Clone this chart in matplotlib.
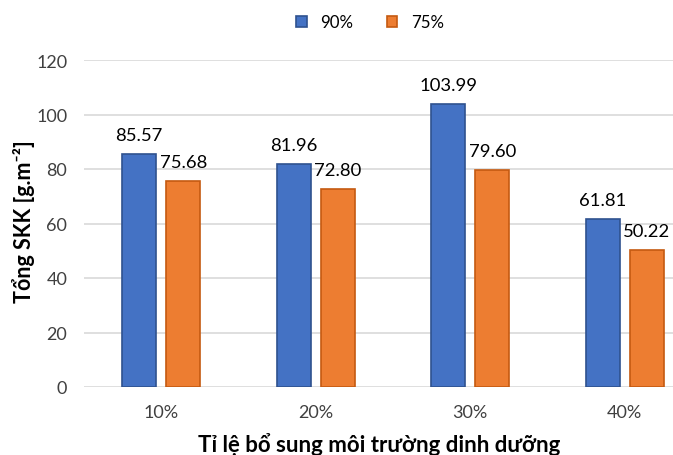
import matplotlib.pyplot as plt
import numpy as np

plt.rcParams['font.family'] = ['Lato', 'DejaVu Sans']

categories = ['10%', '20%', '30%', '40%']
s90 = [85.57, 81.96, 103.99, 61.81]
s75 = [75.68, 72.80, 79.60, 50.22]
series_names = ['90%', '75%']

fig = plt.figure(figsize=(6.73, 4.56), dpi=100)
ax = fig.add_axes([84/673, 1-388/456, 618/673, 327/456])

x = np.arange(len(categories))
w = 0.22
off = 0.143
b1 = ax.bar(x - off, s90, w, color='#4472C4', edgecolor='#2F528F', linewidth=1.2, label=series_names[0], zorder=3)
b2 = ax.bar(x + off, s75, w, color='#ED7D31', edgecolor='#C55A11', linewidth=1.2, label=series_names[1], zorder=3)

# nhan gia tri tren cot
for bars, vals in [(b1, s90), (b2, s75)]:
    for r, v in zip(bars, vals):
        ax.annotate(f'{v:.2f}', (r.get_x() + r.get_width()/2, v), xytext=(0, 10),
                    textcoords='offset points', ha='center', va='baseline', fontsize=13.3, color='#000000')

ax.set_xlim(-0.5, 3.5)
ax.set_ylim(0, 120)
ax.set_yticks(range(0, 121, 20))
ax.set_xticks(x)
ax.set_xticklabels(categories)
ax.tick_params(axis='both', length=0, labelsize=13, colors='#404040')
ax.tick_params(axis='y', pad=12)
ax.tick_params(axis='x', pad=12)
ax.yaxis.grid(True, color='#d9d9d9', linewidth=1.2, zorder=0)
for s in ax.spines.values():
    s.set_visible(False)

ax.set_ylabel('Tổng SKK [g.m⁻²]', fontsize=15.5, fontweight='bold')
ax.yaxis.set_label_coords((24-84)/618, 0.508)
ax.set_xlabel('Tỉ lệ bổ sung môi trường dinh dưỡng', fontsize=16, fontweight='bold')
ax.xaxis.set_label_coords((379-84)/618, -(445-388)/327)
ax.xaxis.label.set_va('center')
ax.yaxis.label.set_va('center')

fig.legend(loc='upper center', bbox_to_anchor=(370/673, 1.0), ncol=2, frameon=False,
           fontsize=12.2, handlelength=0.6, handleheight=0.6, handletextpad=0.8, columnspacing=2.0)

fig.savefig('out.png', dpi=100)
